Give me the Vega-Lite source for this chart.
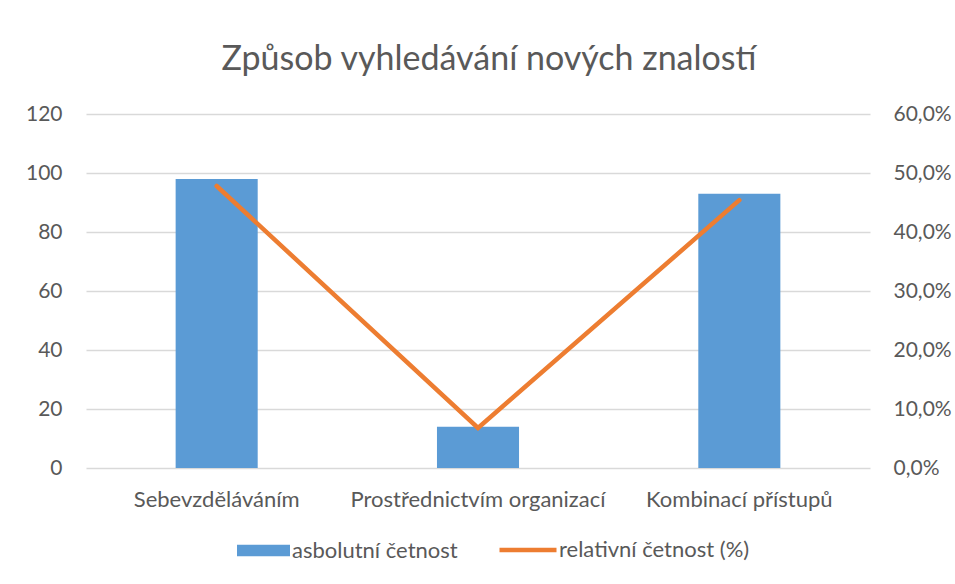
{
  "$schema": "https://vega.github.io/schema/vega-lite/v6.json",
  "autosize": {"type": "none"},
  "width": 784,
  "height": 354,
  "padding": {"left": 86, "top": 114, "right": 85, "bottom": 116},
  "background": "white",
  "title": {
    "text": "Způsob vyhledávání nových znalostí",
    "font": "Lato",
    "fontSize": 34,
    "fontWeight": "normal",
    "color": "#595959",
    "anchor": "middle",
    "baseline": "alphabetic",
    "offset": -1,
    "dx": 11
  },
  "data": {
    "values": [
      {"kategorie": "Sebevzděláváním", "absolutni": 98, "relativni": 0.478},
      {"kategorie": "Prostřednictvím organizací", "absolutni": 14, "relativni": 0.068},
      {"kategorie": "Kombinací přístupů", "absolutni": 93, "relativni": 0.454}
    ]
  },
  "encoding": {
    "x": {
      "field": "kategorie",
      "type": "nominal",
      "sort": null,
      "title": null,
      "scale": {"paddingInner": 0.686, "paddingOuter": 0.343},
      "axis": {
        "domain": false,
        "ticks": false,
        "labelAngle": 0,
        "labelLimit": 0,
        "labelFont": "Lato",
        "labelFontSize": 22,
        "labelColor": "#595959",
        "labelPadding": 21,
        "grid": false
      }
    }
  },
  "layer": [
    {
      "mark": {"type": "bar", "color": "#5B9BD5"},
      "encoding": {
        "y": {
          "field": "absolutni",
          "type": "quantitative",
          "title": null,
          "scale": {"domain": [0, 120], "nice": false},
          "axis": {
            "values": [0, 20, 40, 60, 80, 100, 120],
            "domain": false,
            "ticks": false,
            "grid": true,
            "gridColor": "#D9D9D9",
            "gridWidth": 1.3,
            "labelFont": "Lato",
            "labelFontSize": 21,
            "labelColor": "#595959",
            "labelPadding": 24
          }
        },
        "fill": {
          "datum": "asbolutní četnost",
          "type": "nominal",
          "scale": {"range": ["#5B9BD5"]},
          "legend": {
            "title": null,
            "orient": "none",
            "legendX": 151,
            "legendY": 410,
            "padding": 0,
            "symbolType": "M-1,-0.22H1V0.22H-1Z",
            "symbolSize": 2809,
            "symbolStrokeWidth": 0,
            "labelLimit": 0,
            "labelFont": "Lato",
            "labelFontSize": 22,
            "labelColor": "#595959",
            "labelOffset": 2
          }
        }
      }
    },
    {
      "mark": {"type": "line", "color": "#ED7D31", "strokeWidth": 4.5, "strokeCap": "round"},
      "encoding": {
        "y": {
          "field": "relativni",
          "type": "quantitative",
          "title": null,
          "scale": {"domain": [0, 0.6], "nice": false},
          "axis": {
            "orient": "right",
            "values": [0, 0.1, 0.2, 0.3, 0.4, 0.5, 0.6],
            "labelExpr": "replace(format(datum.value, '.1%'), '.', ',')",
            "domain": false,
            "ticks": false,
            "grid": false,
            "labelFont": "Lato",
            "labelFontSize": 21,
            "labelColor": "#595959",
            "labelPadding": 23
          }
        },
        "stroke": {
          "datum": "relativní četnost (%)",
          "type": "nominal",
          "scale": {"range": ["#ED7D31"]},
          "legend": {
            "title": null,
            "orient": "none",
            "legendX": 411,
            "legendY": 405,
            "padding": 0,
            "symbolType": "stroke",
            "symbolSize": 3249,
            "symbolStrokeWidth": 4.5,
            "labelLimit": 0,
            "labelFont": "Lato",
            "labelFontSize": 22,
            "labelColor": "#595959",
            "labelOffset": 0
          }
        }
      }
    }
  ],
  "resolve": {"scale": {"y": "independent"}},
  "config": {"view": {"stroke": null}}
}
